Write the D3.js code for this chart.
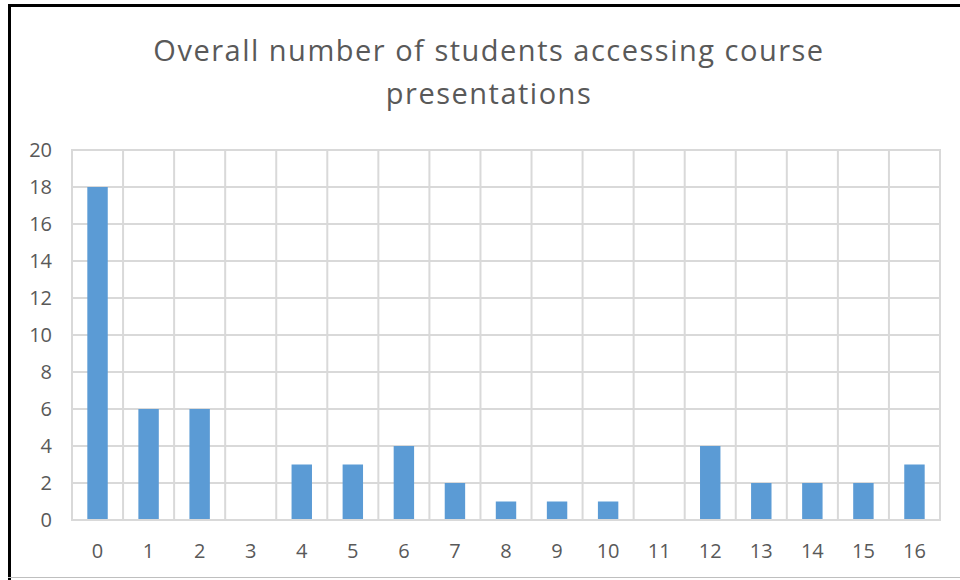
<!DOCTYPE html>
<head>
    <meta charset="utf-8">
    <title>Course presentations</title>
    <script src="https://d3js.org/d3.v7.min.js"></script>
    <style>
        body { margin: 0; background: #fff; }
        text { font-family: "Open Sans", sans-serif; fill: #595959; }
        .tick text { font-size: 20px; }
    </style>
</head>
<body>
<div id="container"></div>
<script>
    //---------------------------DATA-------------------------------//
    const categories = ["0","1","2","3","4","5","6","7","8","9","10","11","12","13","14","15","16"];
    const counts = [18, 6, 6, 0, 3, 3, 4, 2, 1, 1, 1, 0, 4, 2, 2, 2, 3];
    const yTicks = [0, 2, 4, 6, 8, 10, 12, 14, 16, 18, 20];
    const titleLines = ["Overall number of students accessing course", "presentations"];

    //---------------------------SVG--------------------------------//
    const width = 960;
    const height = 580;
    const plot = {left: 72, right: 940, top: 150, bottom: 520};

    const svg = d3.select("div#container").append("svg")
        .attr("width", width)
        .attr("height", height);

    // frame
    svg.append("line").attr("x1", 9.5).attr("x2", 9.5).attr("y1", 4).attr("y2", 580)
        .attr("stroke", "#000").attr("stroke-width", 3);
    svg.append("line").attr("x1", 8).attr("x2", 960).attr("y1", 5.5).attr("y2", 5.5)
        .attr("stroke", "#000").attr("stroke-width", 3);
    svg.append("line").attr("x1", 8).attr("x2", 960).attr("y1", 577.5).attr("y2", 577.5)
        .attr("stroke", "#bfbfbf").attr("stroke-width", 1);

    //--------------------------SCALES------------------------------//
    const x = d3.scaleBand().domain(categories)
        .range([plot.left, plot.right])
        .paddingInner(0.6).paddingOuter(0.3);
    const xGrid = d3.scaleBand().domain(categories)
        .range([plot.left, plot.right]);
    const y = d3.scaleLinear().domain([0, 20]).range([plot.bottom, plot.top]);

    //--------------------------GRID--------------------------------//
    const grid = svg.append("g").attr("stroke", "#d9d9d9").attr("stroke-width", 2);
    grid.selectAll(".h").data(yTicks).enter().append("line")
        .attr("x1", plot.left - 1).attr("x2", plot.right + 1)
        .attr("y1", d => y(d)).attr("y2", d => y(d));
    grid.selectAll(".v").data(categories.concat(["end"])).enter().append("line")
        .attr("x1", d => d === "end" ? plot.right : xGrid(d))
        .attr("x2", d => d === "end" ? plot.right : xGrid(d))
        .attr("y1", plot.top).attr("y2", plot.bottom);

    //--------------------------BARS--------------------------------//
    svg.selectAll(".bar").data(counts).enter().append("rect")
        .attr("x", (d, i) => x(categories[i]))
        .attr("width", x.bandwidth())
        .attr("y", d => y(d))
        .attr("height", d => y(0) - y(d) - 1)
        .attr("fill", "#5b9bd5");

    //--------------------------AXES--------------------------------//
    const yAxis = svg.append("g")
        .attr("transform", "translate(" + plot.left + ",0)")
        .call(d3.axisLeft(y).tickValues(yTicks).tickSize(0).tickPadding(20))
        .attr("font-size", 20)
        .attr("font-family", "Open Sans");
    yAxis.select(".domain").remove();
    yAxis.selectAll("text").attr("fill", "#595959");

    const xAxis = svg.append("g")
        .attr("transform", "translate(0," + plot.bottom + ")")
        .call(d3.axisBottom(x).tickSize(0).tickPadding(24))
        .attr("font-size", 20)
        .attr("font-family", "Open Sans");
    xAxis.select(".domain").remove();
    xAxis.selectAll("text").attr("fill", "#595959");

    //--------------------------TITLE-------------------------------//
    svg.append("g").selectAll("text").data(titleLines).enter().append("text")
        .attr("x", 489)
        .attr("y", (d, i) => 61 + i * 43)
        .attr("text-anchor", "middle")
        .style("font-size", "29px")
        .style("letter-spacing", "1.5px")
        .text(d => d);
</script>
</body>
